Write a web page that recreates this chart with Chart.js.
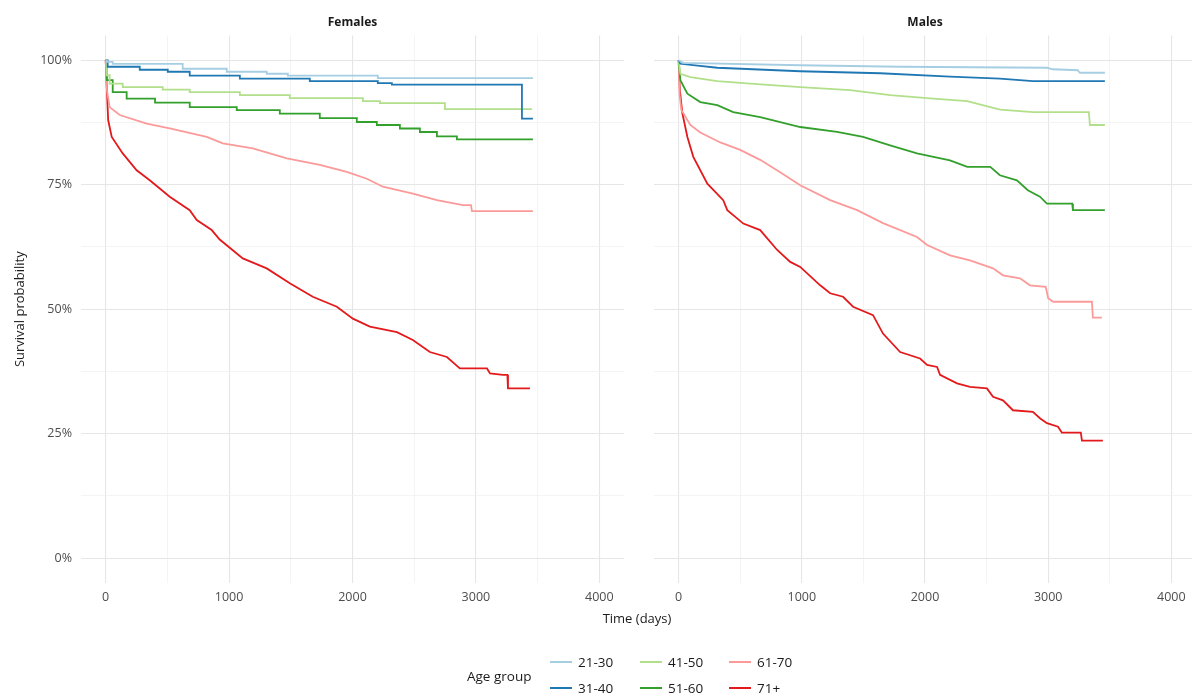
<!DOCTYPE html>
<html>
<head>
<meta charset="utf-8">
<script src="https://cdn.jsdelivr.net/npm/chart.js@4.4.0/dist/chart.umd.min.js"></script>
<style>
  html, body { margin: 0; padding: 0; background: #fff; overflow: hidden; width: 1192px; height: 700px; }
  #wrap { position: relative; width: 1192px; height: 700px; font-family: 'Open Sans', sans-serif; color: #1a1a1a; }
  canvas { position: absolute; top: 0; }
  #xtitle { position: absolute; left: 537px; width: 200px; top: 609px; text-align: center; font-size: 13px; }
  #legend { position: absolute; left: 0; top: 0; width: 1192px; height: 700px; pointer-events: none; }
  .lg-title { position: absolute; left: 467px; top: 667px; font-size: 13.5px; }
  .lg-item { position: absolute; font-size: 13.5px; line-height: 18px; }
  .lg-key { position: absolute; left: 0; top: 8px; width: 22px; height: 2px; }
  .lg-lab { position: absolute; left: 28px; top: 0; white-space: nowrap; }
</style>
</head>
<body>
<div id="wrap">
  <canvas id="fem" width="640" height="610" style="left:0"></canvas>
  <canvas id="mal" width="560" height="610" style="left:640px"></canvas>
  <div id="xtitle">Time (days)</div>
  <div id="legend"><div class="lg-title">Age group</div></div>
</div>
<script>
// age groups and their colours
const ageGroups = ['21-30', '31-40', '41-50', '51-60', '61-70', '71+'];
const groupColors = ['#a6cee3', '#1f78b4', '#b2df8a', '#33a02c', '#fb9a99', '#e31a1c'];

// axis ticks
const xTicks = [0, 500, 1000, 1500, 2000, 2500, 3000, 3500, 4000];
const yTicks = [0, 0.125, 0.25, 0.375, 0.5, 0.625, 0.75, 0.875, 1];

// Females: [time (days), survival]
// first four groups: step points (drop happens at the given time)
const fem21 = [[0,1],[10,0.997],[57,0.993],[624,0.983],[981,0.977],[1305,0.973],[1476,0.969],[2205,0.964],[3462,0.964]];
const fem31 = [[0,1],[16,0.987],[276,0.981],[503,0.977],[681,0.969],[1087,0.963],[1654,0.958],[2205,0.954],[2319,0.951],[3373,0.883],[3462,0.883]];
const fem41 = [[0,1],[10,0.97],[32,0.953],[138,0.946],[462,0.941],[681,0.936],[1087,0.930],[1492,0.924],[2084,0.918],[2222,0.914],[2749,0.902],[3454,0.902]];
const fem51 = [[0,1],[10,0.96],[57,0.936],[170,0.923],[400,0.915],[681,0.906],[1062,0.900],[1411,0.893],[1735,0.884],[2035,0.876],[2197,0.870],[2384,0.863],[2546,0.856],[2684,0.847],[2846,0.841],[3462,0.841]];
// dense curves: points
const fem61 = [[0,1],[10,0.94],[32,0.906],[114,0.890],[332,0.873],[519,0.863],[819,0.846],[949,0.833],[1192,0.823],[1468,0.803],[1735,0.790],[1954,0.776],[2116,0.762],[2246,0.746],[2489,0.732],[2684,0.719],[2895,0.709],[2960,0.709],[2968,0.697],[3462,0.697]];
const fem71 = [[0,1],[20,0.88],[49,0.846],[138,0.813],[251,0.779],[357,0.759],[519,0.726],[681,0.699],[738,0.679],[859,0.659],[924,0.640],[1111,0.602],[1305,0.582],[1492,0.552],[1678,0.525],[1873,0.505],[2003,0.481],[2141,0.465],[2360,0.454],[2489,0.438],[2627,0.414],[2765,0.404],[2870,0.381],[3090,0.381],[3114,0.371],[3219,0.368],[3255,0.368],[3260,0.341],[3438,0.341]];

// Males: points
const mal21 = [[0,1],[38,0.995],[987,0.990],[1798,0.987],[2990,0.985],[3038,0.982],[3240,0.980],[3257,0.975],[3460,0.975]];
const mal31 = [[0,1],[14,0.993],[314,0.985],[987,0.978],[1636,0.974],[2203,0.967],[2608,0.963],[2876,0.958],[3460,0.958]];
const mal41 = [[0,1],[14,0.973],[95,0.966],[314,0.958],[581,0.953],[987,0.946],[1392,0.940],[1717,0.930],[2068,0.923],[2343,0.918],[2530,0.906],[2611,0.901],[2876,0.896],[3330,0.896],[3339,0.870],[3460,0.870]];
const mal51 = [[0,1],[14,0.96],[71,0.933],[176,0.916],[314,0.910],[443,0.896],[662,0.886],[987,0.866],[1286,0.856],[1497,0.846],[1717,0.829],[1935,0.813],[2203,0.799],[2343,0.786],[2530,0.786],[2608,0.769],[2746,0.759],[2835,0.739],[2933,0.726],[2990,0.712],[3195,0.712],[3201,0.699],[3460,0.699]];
const mal61 = [[0,1],[8,0.93],[22,0.90],[95,0.87],[176,0.855],[338,0.835],[500,0.82],[662,0.80],[824,0.775],[987,0.749],[1230,0.719],[1449,0.699],[1659,0.673],[1935,0.645],[2017,0.629],[2203,0.608],[2365,0.598],[2552,0.582],[2633,0.568],[2771,0.562],[2852,0.548],[2980,0.545],[3000,0.522],[3040,0.515],[3355,0.515],[3363,0.483],[3436,0.483]];
const mal71 = [[0,1],[10,0.94],[30,0.894],[71,0.846],[119,0.806],[233,0.752],[362,0.719],[395,0.699],[525,0.672],[662,0.659],[800,0.619],[906,0.595],[987,0.585],[1149,0.548],[1230,0.532],[1335,0.525],[1416,0.505],[1578,0.488],[1659,0.451],[1798,0.414],[1960,0.401],[2017,0.388],[2098,0.384],[2122,0.368],[2260,0.351],[2365,0.344],[2503,0.341],[2552,0.324],[2633,0.317],[2714,0.297],[2876,0.294],[2933,0.281],[2990,0.271],[3080,0.264],[3111,0.252],[3265,0.252],[3274,0.236],[3444,0.236]];

const femSeries = [fem21, fem31, fem41, fem51, fem61, fem71];
const malSeries = [mal21, mal31, mal41, mal51, mal61, mal71];
const femStepped = [true, true, true, true, false, false];
const malStepped = [false, false, false, false, false, false];

const FONT = "'Open Sans', sans-serif";
const isMajorX = v => v % 1000 === 0;
const isMajorY = v => Math.abs(v * 4 - Math.round(v * 4)) < 1e-9;

function makePanel(id, title, series, stepped, showY) {
    new Chart(document.getElementById(id), {
        type: 'line',
        data: {
            datasets: series.map((pts, i) => ({
                label: ageGroups[i],
                data: pts.map(p => ({ x: p[0], y: p[1] })),
                borderColor: groupColors[i],
                borderWidth: 1.8,
                stepped: stepped[i],
                fill: false,
                pointRadius: 0
            }))
        },
        options: {
            responsive: false,
            animation: false,
            devicePixelRatio: 1,
            layout: { padding: { left: 0, right: showY ? 16 : 4, top: 0, bottom: 0 } },
            plugins: {
                legend: { display: false },
                tooltip: { enabled: false },
                title: {
                    display: true, text: title, fullSize: false, color: '#1a1a1a',
                    font: { family: FONT, size: 12, weight: 'bold', lineHeight: 1.2 },
                    padding: { top: 15, bottom: 6 }
                }
            },
            scales: {
                x: {
                    type: 'linear', min: -200, max: 4200,
                    afterBuildTicks: s => { s.ticks = xTicks.map(v => ({ value: v })); },
                    afterFit: s => { s.height = 27; },
                    border: { display: false },
                    grid: {
                        drawTicks: false,
                        color: c => isMajorX(c.tick.value) ? '#e6e6e6' : '#f1f1f1',
                        lineWidth: c => isMajorX(c.tick.value) ? 1.1 : 0.8
                    },
                    ticks: {
                        padding: 7, color: '#4d4d4d', autoSkip: false, maxRotation: 0,
                        font: { family: FONT, size: 12.5 },
                        callback: v => isMajorX(v) ? String(v) : ''
                    }
                },
                y: {
                    type: 'linear', min: -0.05, max: 1.05,
                    afterBuildTicks: s => { s.ticks = yTicks.map(v => ({ value: v })); },
                    afterFit: s => { s.width = showY ? 81 : 14; },
                    border: { display: false },
                    grid: {
                        drawTicks: false,
                        color: c => isMajorY(c.tick.value) ? '#e6e6e6' : '#f1f1f1',
                        lineWidth: c => isMajorY(c.tick.value) ? 1.1 : 0.8
                    },
                    ticks: {
                        display: showY, padding: 9, color: '#4d4d4d', autoSkip: false,
                        font: { family: FONT, size: 12.5 },
                        callback: v => isMajorY(v) ? Math.round(v * 100) + '%' : ''
                    },
                    title: {
                        display: showY, text: 'Survival probability', color: '#1a1a1a',
                        font: { family: FONT, size: 13 },
                        padding: { top: 12, bottom: 0 }
                    }
                }
            }
        }
    });
}

makePanel('fem', 'Females', femSeries, femStepped, true);
makePanel('mal', 'Males', malSeries, malStepped, false);

// legend: three columns, two rows, filled column by column
const legend = document.getElementById('legend');
const colX = [550, 640, 729];
const rowY = [653, 679];
ageGroups.forEach((g, i) => {
    const item = document.createElement('div');
    item.className = 'lg-item';
    item.style.left = colX[Math.floor(i / 2)] + 'px';
    item.style.top = rowY[i % 2] + 'px';
    item.innerHTML = '<div class="lg-key" style="background:' + groupColors[i] + '"></div><div class="lg-lab">' + g + '</div>';
    legend.appendChild(item);
});
</script>
</body>
</html>
